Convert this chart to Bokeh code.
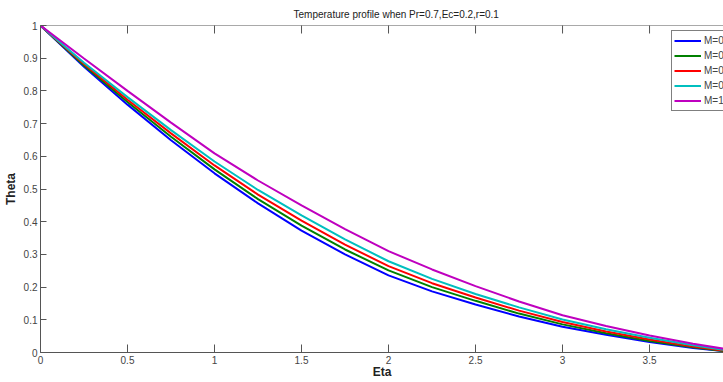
import math
from bokeh.plotting import figure
from bokeh.models import (Range1d, LinearAxis, FixedTicker, CustomJSTickFormatter,
                          Legend, LegendItem, Title, Span)
from bokeh.embed import file_html
from bokeh.resources import INLINE

# ---- data ----
eta = [0, 0.25, 0.5, 0.75, 1, 1.25, 1.5, 1.75, 2, 2.25, 2.5, 2.75, 3, 3.25, 3.5, 3.75, 4]
theta_m1 = [1, 0.874, 0.758, 0.649, 0.548, 0.456, 0.373, 0.300, 0.236, 0.187, 0.147, 0.110, 0.079, 0.054, 0.032, 0.014, 0.0]
theta_m2 = [1, 0.878, 0.766, 0.660, 0.560, 0.469, 0.388, 0.315, 0.251, 0.200, 0.158, 0.119, 0.086, 0.059, 0.035, 0.016, 0.0]
theta_m3 = [1, 0.882, 0.773, 0.670, 0.572, 0.483, 0.403, 0.330, 0.264, 0.212, 0.168, 0.128, 0.093, 0.064, 0.040, 0.018, 0.001]
theta_m4 = [1, 0.886, 0.781, 0.680, 0.584, 0.497, 0.419, 0.346, 0.279, 0.225, 0.179, 0.138, 0.101, 0.071, 0.045, 0.022, 0.002]
theta_m5 = [1, 0.899, 0.800, 0.703, 0.609, 0.526, 0.450, 0.377, 0.310, 0.254, 0.203, 0.156, 0.114, 0.081, 0.052, 0.027, 0.005]
series = [theta_m1, theta_m2, theta_m3, theta_m4, theta_m5]
labels = ["M=0", "M=0.25", "M=0.5", "M=0.75", "M=1"]
colors = ["#0000FF", "#008000", "#FF0000", "#00BFBF", "#BF00BF"]

x_ticks = [0, 0.5, 1, 1.5, 2, 2.5, 3, 3.5, 4]
y_ticks = [0, 0.1, 0.2, 0.3, 0.4, 0.5, 0.6, 0.7, 0.8, 0.9, 1]
x_lim = (0, 3.925)
y_lim = (0, 1)

title_text = "Temperature profile when Pr=0.7,Ec=0.2,r=0.1"
x_label = "Eta"
y_label = "Theta"

FONT = "Liberation Sans"
AX = "#555555"
TX = "#444444"

p = figure(width=723, height=382, output_backend="svg", toolbar_location=None,
           x_range=Range1d(*x_lim), y_range=Range1d(*y_lim),
           min_border_left=40, min_border_right=0, min_border_top=25, min_border_bottom=30,
           x_axis_location=None, y_axis_location=None)
p.outline_line_color = None
p.xgrid.visible = False
p.ygrid.visible = False
p.background_fill_color = "white"

fmt = CustomJSTickFormatter(code="return String(Math.round(tick*10)/10);")

xb = LinearAxis(ticker=FixedTicker(ticks=x_ticks), formatter=fmt)
yl = LinearAxis(ticker=FixedTicker(ticks=y_ticks), formatter=fmt)
for ax in (xb, yl):
    ax.axis_line_color = AX
    ax.major_tick_line_color = AX
    ax.minor_tick_line_color = None
    ax.major_tick_out = 0
    ax.major_label_text_font = FONT
    ax.major_label_text_font_size = "10px"
    ax.major_label_text_color = TX
    ax.major_label_standoff = 3
    ax.axis_label_text_font = FONT
    ax.axis_label_text_font_size = "12px"
    ax.axis_label_text_font_style = "bold"
    ax.axis_label_text_color = "#222222"
xb.major_tick_in = 8
yl.major_tick_in = 6
xb.axis_label = x_label
xb.axis_label_standoff = -2
yl.axis_label = y_label
yl.axis_label_standoff = 3
p.add_layout(xb, "below")
p.add_layout(yl, "left")

# top box edge with inward ticks
p.add_layout(Span(location=y_lim[1], dimension="width", line_color=AX, line_width=1))
p.scatter(x_ticks, [y_lim[1]] * len(x_ticks), marker="dash", angle=math.pi / 2,
          size=16, line_color=AX, line_width=1)

renderers = []
for ys, c in zip(series, colors):
    r = p.line(eta, ys, line_color=c, line_width=2)
    renderers.append(r)

legend = Legend(items=[LegendItem(label=l, renderers=[r]) for l, r in zip(labels, renderers)],
                location=(631, 241), padding=2, spacing=0, glyph_height=15, label_height=15,
                glyph_width=27, label_standoff=3, margin=0,
                label_text_font=FONT, label_text_font_size="10px", label_text_color=TX,
                border_line_color="#000000", border_line_width=1,
                background_fill_color="white", background_fill_alpha=1)
p.add_layout(legend, "center")

t = Title(text=title_text, align="left", offset=253, standoff=11,
          text_font=FONT, text_font_size="10px", text_font_style="normal",
          text_color="#222222")
p.add_layout(t, "above")

open("out.html", "w").write(file_html(p, INLINE))
